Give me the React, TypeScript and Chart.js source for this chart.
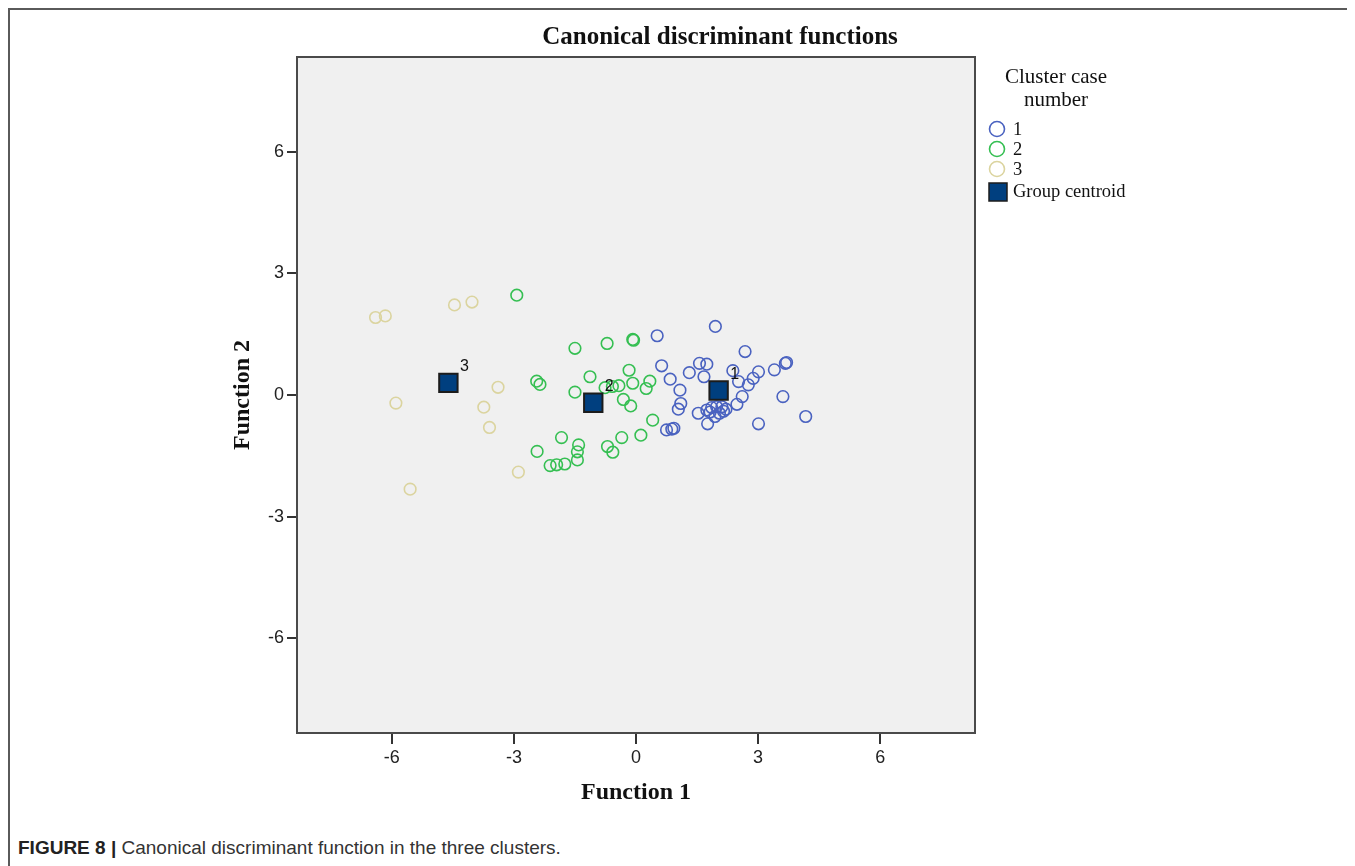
import React, { useEffect, useRef } from "react";
import { Chart, registerables } from "chart.js";

Chart.register(...registerables);

// ---------- data ----------
const xTicks = [-6, -3, 0, 3, 6];
const yTicks = [-6, -3, 0, 3, 6];
const axisMin = -8.33;
const axisMax = 8.33;

const cluster1X = [0.52, 1.95, 2.68, 0.63, 1.56, 1.74, 1.31, 1.67, 0.84, 2.38, 3.01, 2.88, 2.76, 3.40, 3.67, 3.70, 2.52, 1.08, 1.10, 1.04, 2.61, 2.48, 1.53, 1.74, 1.86, 1.98, 2.11, 2.21, 2.05, 1.94, 1.76, 3.61, 3.01, 4.17, 0.75, 0.88, 0.93, 2.00, 1.82, 2.15];
const cluster1Y = [1.46, 1.69, 1.07, 0.72, 0.78, 0.76, 0.55, 0.45, 0.39, 0.60, 0.57, 0.41, 0.25, 0.62, 0.78, 0.80, 0.33, 0.12, -0.21, -0.35, -0.04, -0.23, -0.45, -0.37, -0.31, -0.29, -0.29, -0.35, -0.45, -0.53, -0.71, -0.04, -0.71, -0.53, -0.86, -0.84, -0.82, 0.05, -0.42, -0.40];

const cluster2X = [-2.93, -1.50, -0.71, -0.08, -0.06, -2.44, -2.36, -1.13, -1.50, -0.76, -0.42, -0.17, -0.08, 0.34, 0.25, -0.31, -0.13, 0.41, -0.35, 0.12, -1.83, -2.43, -1.41, -1.44, -1.44, -0.70, -0.57, -2.11, -1.95, -1.75, -0.58];
const cluster2Y = [2.46, 1.15, 1.27, 1.37, 1.35, 0.34, 0.26, 0.45, 0.07, 0.18, 0.23, 0.61, 0.29, 0.34, 0.16, -0.11, -0.27, -0.62, -1.05, -0.99, -1.05, -1.39, -1.23, -1.40, -1.60, -1.27, -1.41, -1.74, -1.72, -1.70, 0.21];

const cluster3X = [-6.40, -6.16, -4.46, -4.03, -3.39, -5.90, -3.74, -3.60, -2.89, -5.55];
const cluster3Y = [1.91, 1.95, 2.22, 2.29, 0.19, -0.20, -0.30, -0.80, -1.90, -2.32];

const centroidX = [2.03, -1.05, -4.61];
const centroidY = [0.11, -0.19, 0.30];
const centroidLabels = ["1", "2", "3"];

const clusterLabels = ["1", "2", "3"];
const centroidLegendLabel = "Group centroid";
const legendTitle = ["Cluster case", "number"];
const chartTitle = "Canonical discriminant functions";
const xTitle = "Function 1";
const yTitle = "Function 2";
const captionBold = "FIGURE 8 |";
const captionText = " Canonical discriminant function in the three clusters.";

const clusterColors = ["#4a62c0", "#35bf52", "#dbd49f"];
const centroidFill = "#003f7f";
const centroidBorder = "#1c1c1c";

const SANS = '"Liberation Sans Narrow", "Liberation Sans", Arial, sans-serif';
const SERIF = '"Liberation Serif", "Times New Roman", serif';

const toPoints = (xs: number[], ys: number[]) => xs.map((x, i) => ({ x, y: ys[i] }));

const decorPlugin = {
  id: "decor",
  beforeDatasetsDraw(chart: any) {
    const { ctx, chartArea } = chart;
    const { left, top, right, bottom } = chartArea;
    ctx.save();
    ctx.fillStyle = "#f0f0f0";
    ctx.fillRect(left, top, right - left, bottom - top);
    ctx.restore();
  },
  afterDatasetsDraw(chart: any) {
    const { ctx, chartArea } = chart;
    const { left, top, right, bottom } = chartArea;
    ctx.save();
    ctx.strokeStyle = "#4a4a4a";
    ctx.lineWidth = 2;
    ctx.strokeRect(left, top, right - left, bottom - top);
    const meta = chart.getDatasetMeta(3);
    ctx.fillStyle = "#111";
    ctx.font = `16px ${SANS}`;
    ctx.textAlign = "center";
    ctx.textBaseline = "middle";
    meta.data.forEach((el: any, i: number) => {
      ctx.fillText(centroidLabels[i], el.x + 16, el.y - 16);
    });
    ctx.restore();
  },
  afterDraw(chart: any) {
    const { ctx, chartArea } = chart;
    const { left, top, right, bottom } = chartArea;
    ctx.save();
    ctx.fillStyle = "#111";
    ctx.textAlign = "center";
    ctx.textBaseline = "middle";
    ctx.font = `bold 25px ${SERIF}`;
    ctx.fillText(chartTitle, 710, 28);
    ctx.font = `bold 24px ${SERIF}`;
    ctx.fillText(xTitle, (left + right) / 2, 783);
    ctx.save();
    ctx.translate(233, (top + bottom) / 2);
    ctx.rotate(-Math.PI / 2);
    ctx.fillText(yTitle, 0, 0);
    ctx.restore();
    ctx.font = `21px ${SERIF}`;
    ctx.fillText(legendTitle[0], 1046, 67);
    ctx.fillText(legendTitle[1], 1046, 90);
    ctx.textAlign = "left";
    ctx.font = `18.5px ${SERIF}`;
    const lx = 987;
    const ys = [119, 139, 159];
    clusterColors.forEach((c, i) => {
      ctx.beginPath();
      ctx.arc(lx, ys[i], 7.5, 0, Math.PI * 2);
      ctx.strokeStyle = c;
      ctx.lineWidth = 1.6;
      ctx.stroke();
      ctx.fillStyle = "#111";
      ctx.fillText(clusterLabels[i], 1003, ys[i] + 1);
    });
    ctx.fillStyle = centroidFill;
    ctx.fillRect(979, 173, 18, 18);
    ctx.strokeStyle = centroidBorder;
    ctx.lineWidth = 1.5;
    ctx.strokeRect(979, 173, 18, 18);
    ctx.fillStyle = "#111";
    ctx.fillText(centroidLegendLabel, 1003, 182);
    ctx.restore();
  },
};

export default function App() {
  const ref = useRef<HTMLCanvasElement | null>(null);

  useEffect(() => {
    document.documentElement.style.overflow = "hidden";
    const canvas = ref.current;
    if (!canvas) return;
    const pointDs = (label: string, xs: number[], ys: number[], color: string, order: number) => ({
      label,
      order,
      data: toPoints(xs, ys),
      pointStyle: "circle",
      pointRadius: 5.8,
      pointHoverRadius: 5.8,
      pointBorderWidth: 1.6,
      borderColor: color,
      backgroundColor: "rgba(0,0,0,0)",
      showLine: false,
    });
    const tickFont = { family: SANS, size: 18 };
    const chart = new Chart(canvas, {
      type: "scatter",
      data: {
        datasets: [
          pointDs(clusterLabels[2], cluster3X, cluster3Y, clusterColors[2], 3),
          pointDs(clusterLabels[1], cluster2X, cluster2Y, clusterColors[1], 2),
          pointDs(clusterLabels[0], cluster1X, cluster1Y, clusterColors[0], 1),
          {
            label: centroidLegendLabel,
            order: 0,
            data: toPoints(centroidX, centroidY),
            pointStyle: "rect",
            pointRadius: 13,
            pointHoverRadius: 13,
            pointBorderWidth: 2,
            borderColor: centroidBorder,
            backgroundColor: centroidFill,
            showLine: false,
          },
        ],
      } as any,
      options: {
        animation: false,
        responsive: false,
        maintainAspectRatio: false,
        events: [],
        layout: { padding: { left: 227, right: 380, top: 47, bottom: 52 } },
        plugins: { legend: { display: false }, tooltip: { enabled: false }, title: { display: false } },
        scales: {
          x: {
            type: "linear",
            min: axisMin,
            max: axisMax,
            afterBuildTicks: (s: any) => {
              s.ticks = xTicks.map((v) => ({ value: v }));
            },
            afterFit: (s: any) => {
              s.height = 45;
            },
            grid: { drawOnChartArea: false, drawTicks: true, tickLength: 11, color: "#333", lineWidth: 2 },
            border: { display: false },
            ticks: { font: tickFont, color: "#222", padding: 3, maxRotation: 0 },
          },
          y: {
            type: "linear",
            min: axisMin,
            max: axisMax,
            afterBuildTicks: (s: any) => {
              s.ticks = yTicks.map((v) => ({ value: v }));
            },
            afterFit: (s: any) => {
              s.width = 60;
            },
            grid: { drawOnChartArea: false, drawTicks: true, tickLength: 10, color: "#333", lineWidth: 2 },
            border: { display: false },
            ticks: { font: tickFont, color: "#222", padding: 3 },
          },
        },
      } as any,
      plugins: [decorPlugin],
    });
    return () => chart.destroy();
  }, []);

  return (
    <div
      style={{
        position: "relative",
        borderTop: "2px solid #5a5a5a",
        borderLeft: "2px solid #5a5a5a",
        marginRight: -8,
        height: 870,
        background: "#fff",
      }}
    >
      <canvas ref={ref} width={1345} height={820} style={{ display: "block" }} />
      <div
        style={{
          position: "absolute",
          left: 8,
          top: 827,
          font: `19px ${SANS}`,
          color: "#333",
          whiteSpace: "nowrap",
        }}
      >
        <b style={{ color: "#222" }}>{captionBold}</b>
        {captionText}
      </div>
    </div>
  );
}
